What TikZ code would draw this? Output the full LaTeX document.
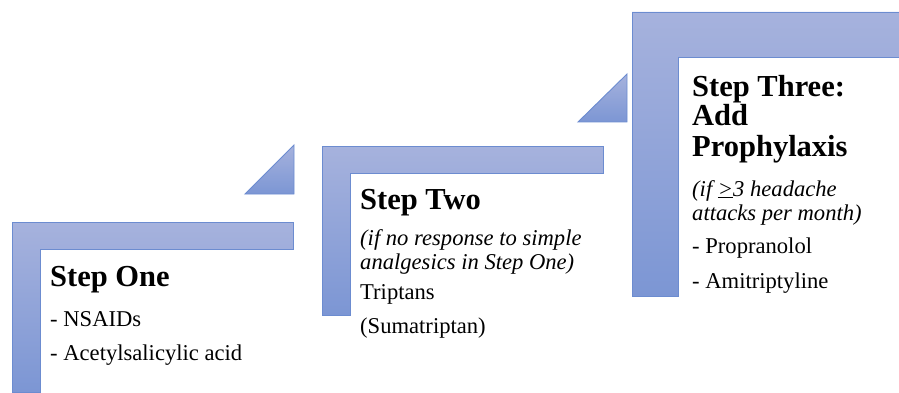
\documentclass[tikz,border=0pt]{standalone}
\usepackage{fontspec}
\setmainfont{Liberation Serif}
\definecolor{stepTop}{RGB}{166,178,221}
\definecolor{stepBot}{RGB}{124,150,212}
\definecolor{stepLine}{RGB}{108,140,208}
\tikzset{
  stepshape/.style={draw=stepLine, line width=0.9pt, top color=stepTop, bottom color=stepBot, line join=miter},
  head/.style={anchor=base west, inner sep=0pt, font=\fontsize{30.5}{30}\selectfont\bfseries},
  body/.style={anchor=base west, inner sep=0pt, font=\fontsize{22.6}{24}\selectfont},
  note/.style={anchor=base west, inner sep=0pt, font=\fontsize{22.6}{24}\selectfont\itshape}
}
\begin{document}
\begin{tikzpicture}[x=1pt,y=-1pt]
\useasboundingbox (0,0) rectangle (899,393);
\clip (0,0) rectangle (899,393);
% Step shapes
\path[stepshape] (12,222) -- (293,222) -- (293,249) -- (40,249) -- (40,392) -- (12,392) -- cycle;
\path[stepshape] (322,146) -- (603,146) -- (603,173) -- (350,173) -- (350,315) -- (322,315) -- cycle;
\path[stepshape] (632,12) -- (905,12) -- (905,57) -- (678,57) -- (678,296) -- (632,296) -- cycle;
% Triangles
\path[stepshape] (245,194) -- (294,194) -- (294,145) -- cycle;
\path[stepshape] (578,122) -- (627,122) -- (627,74) -- cycle;
% Step One text
\node[head] (s1h) at (50,286) {Step One};
\node[body] (s1a) at (50,326) {- NSAIDs};
\node[body] (s1b) at (50,360) {- Acetylsalicylic acid};
% Step Two text
\node[head] (s2h) at (360,209) {Step Two};
\node[note] (s2n1) at (360,245) {(if no response to simple};
\node[note] (s2n2) at (360,269) {analgesics in Step One)};
\node[body] (s2a) at (360,299) {Triptans};
\node[body] (s2b) at (360,333) {(Sumatriptan)};
% Step Three text
\node[head] (s3h1) at (692,97) {Step Three:};
\node[head] (s3h2) at (692,126) {Add};
\node[head] (s3h3) at (692,156) {Prophylaxis};
\node[note] (s3n1) at (692,196) {(if \underline{>}3 headache};
\node[note] (s3n2) at (692,220) {attacks per month)};
\node[body] (s3a) at (692,253) {- Propranolol};
\node[body] (s3b) at (692,288) {- Amitriptyline};
\end{tikzpicture}
\end{document}
